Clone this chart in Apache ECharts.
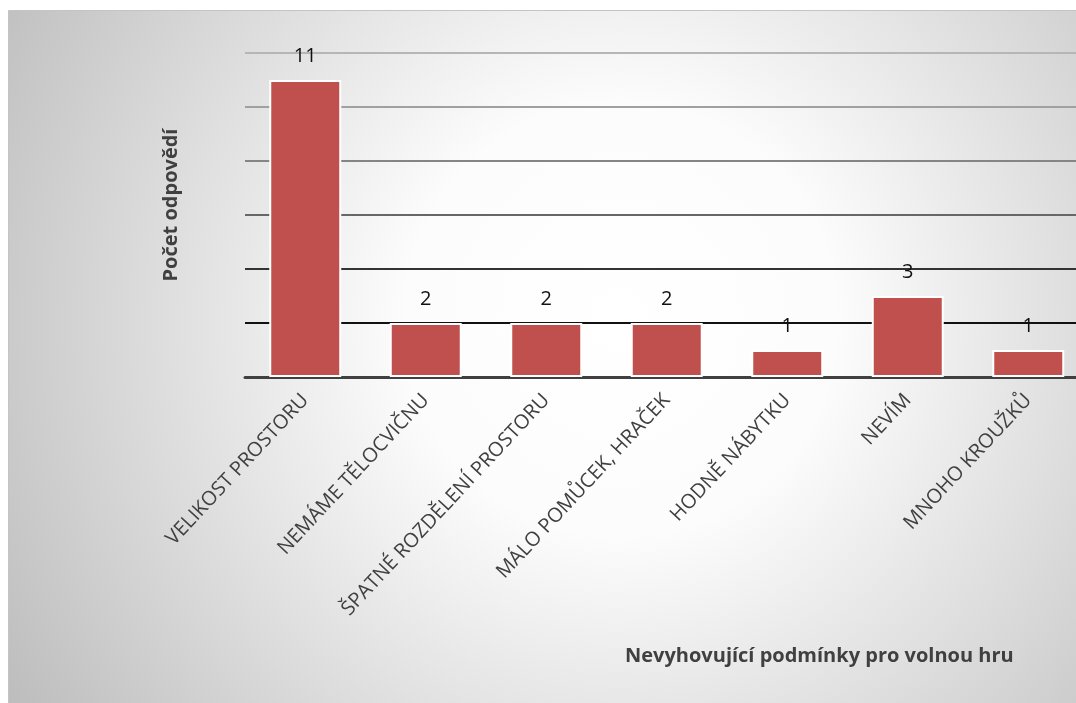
<!DOCTYPE html>
<html>
<head>
<meta charset="utf-8">
<script src="https://cdn.jsdelivr.net/npm/echarts@6/dist/echarts.min.js"></script>
<style>
  html, body { margin: 0; padding: 0; background: #fff; }
  #chart { width: 1076px; height: 703px; }
</style>
</head>
<body>
<div id="chart"></div>
<script>
  // data
  var categories = ['VELIKOST PROSTORU', 'NEMÁME TĚLOCVIČNU', 'ŠPATNÉ ROZDĚLENÍ PROSTORU', 'MÁLO POMŮCEK, HRAČEK', 'HODNĚ NÁBYTKU', 'NEVÍM', 'MNOHO KROUŽKŮ']
  var counts = [11, 2, 2, 2, 1, 3, 1]
  var yTitle = 'Počet odpovědí'
  var xTitle = 'Nevyhovující podmínky pro volnou hru'

  var chart = echarts.init(document.getElementById('chart'))
  var bg = new echarts.graphic.RadialGradient(620, 320, 720, [
    { offset: 0, color: '#ffffff' },
    { offset: 0.3, color: '#fcfcfc' },
    { offset: 1, color: '#bdbdbd' }
  ], true)

  chart.setOption({
    animation: false,
    textStyle: { fontFamily: 'Open Sans' },
    graphic: [{
      type: 'rect',
      z: -10,
      silent: true,
      shape: { x: 8.5, y: 10.5, width: 1090, height: 710 },
      style: { fill: bg, stroke: '#c4c4c4', lineWidth: 1 }
    }],
    title: {
      text: xTitle,
      left: 620,
      top: 641,
      textStyle: { fontFamily: 'Open Sans', fontSize: 20, fontWeight: 'bold', color: '#404040' }
    },
    grid: { left: 245, top: 53, width: 843.5, height: 324, outerBoundsMode: 'none', containLabel: false },
    xAxis: {
      type: 'category',
      data: categories,
      axisLine: { lineStyle: { color: '#404040', width: 3 } },
      axisTick: { show: false },
      axisLabel: { interval: 0, rotate: 47, margin: 20, fontSize: 20, color: '#404040', fontFamily: 'Open Sans' }
    },
    yAxis: {
      type: 'value',
      min: 0,
      max: 12,
      interval: 2,
      name: yTitle,
      nameLocation: 'middle',
      nameGap: 64,
      nameTextStyle: { fontSize: 20, fontWeight: 'bold', color: '#404040', fontFamily: 'Open Sans', padding: [0, 0, 0, 20] },
      axisLabel: { show: false },
      axisLine: { show: false },
      axisTick: { show: false },
      splitLine: { lineStyle: { width: 2, color: ['#404040', '#111111', '#333333', '#676767', '#858585', '#a0a0a0', '#b6b6b6'] } }
    },
    series: [{
      type: 'bar',
      data: counts,
      barWidth: 72,
      itemStyle: { color: '#c0504d', borderColor: '#ffffff', borderWidth: 2 },
      label: { show: true, position: 'top', distance: 14, fontSize: 20, color: '#111', fontFamily: 'Open Sans' }
    }]
  })
</script>
</body>
</html>
